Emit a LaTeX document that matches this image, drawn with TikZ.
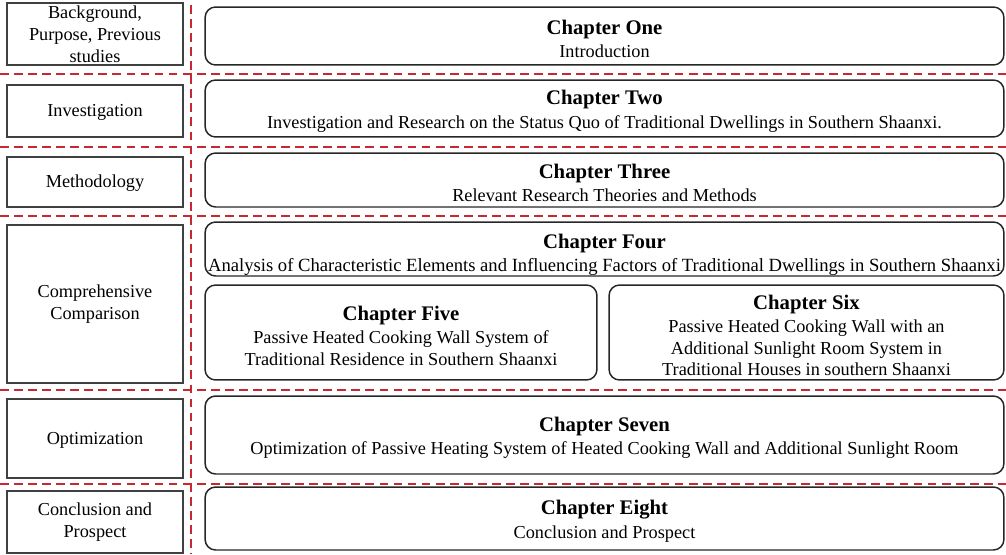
\documentclass[tikz,border=0pt]{standalone}
\usepackage{fontspec}
\setmainfont{Liberation Serif}
\usetikzlibrary{positioning}
\newcommand{\chtitle}[2][11.5pt]{\rule{0pt}{#1}{\fontsize{11.8}{13}\selectfont\bfseries #2}\\[1pt]}

\begin{document}
\begin{tikzpicture}[x=0.02cm, y=-0.02cm,
  stage/.style={draw=black!75, line width=0.6pt, inner sep=0pt, align=center,
    minimum width=3.52cm, font=\fontsize{10.4}{12.5}\selectfont},
  chap/.style={draw=black!85, line width=0.85pt, rounded corners=6pt, inner sep=0pt,
    align=center, font=\fontsize{10.4}{12.3}\selectfont},
  wide/.style={chap, minimum width=15.98cm},
  divider/.style={draw={rgb,255:red,200;green,40;blue,48}, line width=1.1pt,
    dash pattern=on 5pt off 3pt}]
\useasboundingbox (0,0) rectangle (1006,554);
% left column: stages
\node[stage, minimum height=1.24cm] (s1) at (95,34) {Background,\\Purpose, Previous\\studies};
\node[stage, minimum height=1.04cm] (s2) at (95,111) {\rule{0pt}{9pt}Investigation};
\node[stage, minimum height=1.0cm] (s3) at (95,182) {\rule{0pt}{9pt}Methodology};
\node[stage, minimum height=3.16cm] (s4) at (95,304) {Comprehensive\\Comparison};
\node[stage, minimum height=1.58cm] (s5) at (95,438.5) {\rule{0pt}{9pt}Optimization};
\node[stage, minimum height=1.24cm] (s6) at (95,522) {Conclusion and\\Prospect};
% right column: chapters
\node[wide, minimum height=1.16cm] (c1) at (604.5,36) {\chtitle{Chapter One}Introduction};
\node[wide, minimum height=1.14cm] (c2) at (604.5,108.5) {\chtitle{Chapter Two}Investigation and Research on the Status Quo of Traditional Dwellings in Southern Shaanxi.};
\node[wide, minimum height=1.08cm] (c3) at (604.5,180) {\chtitle{Chapter Three}Relevant Research Theories and Methods};
\node[wide, minimum height=1.08cm] (c4) at (604.5,249) {\chtitle[15pt]{Chapter Four}{\fontsize{10.6}{12.3}\selectfont Analysis of Characteristic Elements and Influencing Factors of Traditional Dwellings in Southern Shaanxi}};
\node[chap, minimum width=7.84cm, minimum height=1.9cm] (c5) at (401,332.5) {\chtitle{Chapter Five}Passive Heated Cooking Wall System of\\Traditional Residence in Southern Shaanxi};
\node[chap, minimum width=7.9cm, minimum height=1.9cm] (c6) at (806.5,332.5) {\chtitle{Chapter Six}Passive Heated Cooking Wall with an\\Additional Sunlight Room System in\\Traditional Houses in southern Shaanxi};
\node[wide, minimum height=1.56cm] (c7) at (604.5,435) {\chtitle{Chapter Seven}Optimization of Passive Heating System of Heated Cooking Wall and Additional Sunlight Room};
\node[wide, minimum height=1.26cm] (c8) at (604.5,518.5) {\chtitle{Chapter Eight}Conclusion and Prospect};
% dividers
\draw[divider] (191,5) -- (191,554);
\foreach \yy in {74,147,216,390,484}
  \draw[divider] (0,\yy) -- (1006,\yy);
\end{tikzpicture}
\end{document}
